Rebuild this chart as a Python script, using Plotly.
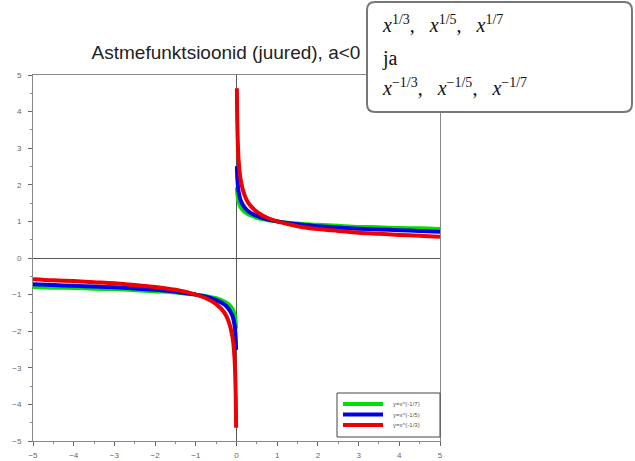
import plotly.graph_objects as go

# sample positions (x > 0); negative branch is the mirror image
x_pos = [0.01, 0.02, 0.05, 0.1, 0.2, 0.3, 0.5, 0.75, 1, 1.5, 2, 2.5, 3, 3.5, 4, 4.5, 5]
y_m17 = [1.93, 1.75, 1.53, 1.39, 1.26, 1.19, 1.10, 1.04, 1.00, 0.94, 0.91, 0.88, 0.85, 0.84, 0.82, 0.81, 0.79]
y_m15 = [2.51, 2.19, 1.82, 1.58, 1.38, 1.27, 1.15, 1.06, 1.00, 0.92, 0.87, 0.83, 0.80, 0.78, 0.76, 0.74, 0.72]
y_m13 = [4.64, 3.68, 2.71, 2.15, 1.71, 1.49, 1.26, 1.10, 1.00, 0.87, 0.79, 0.74, 0.69, 0.66, 0.63, 0.61, 0.58]

series_names = ["y=x^(-1/7)", "y=x^(-1/5)", "y=x^(-1/3)"]
series_vals = [y_m17, y_m15, y_m13]
series_colors = ["#00e000", "#0000ee", "#ee0000"]

tick_vals = [-5, -4, -3, -2, -1, 0, 1, 2, 3, 4, 5]
title_text = "Astmefunktsioonid (juured), a<0"
gap = "\u00a0" * 3

def pw_(e):
    return f"<i>x</i><sup>{e}</sup>"

box_lines = [
    f"{pw_('1/3')},{gap}{pw_('1/5')},{gap}{pw_('1/7')}",
    "ja",
    f"{pw_('\u22121/3')},{gap}{pw_('\u22121/5')},{gap}{pw_('\u22121/7')}",
]

L, R, T, B = 33, 440, 75, 441
W, H = 635, 461
pw, ph = R - L, B - T

def px(xp):
    return (xp - L) / pw

def py(yp):
    return (B - yp) / ph

fig = go.Figure()
for name, vals, col in zip(series_names, series_vals, series_colors):
    xn = [-v for v in reversed(x_pos)]
    yn = [-v for v in reversed(vals)]
    xs = xn + [None] + x_pos
    ys = yn + [None] + vals
    fig.add_trace(go.Scatter(x=xs, y=ys, mode="lines", name=name,
                             line=dict(color=col, width=4, shape="spline"),
                             connectgaps=False, showlegend=False))

axis_common = dict(
    range=[-5, 5], tickvals=tick_vals, ticks="outside", ticklen=4, tickcolor="#666",
    showgrid=False, zeroline=True, zerolinecolor="#555", zerolinewidth=1,
    showline=True, linecolor="#888", linewidth=1, mirror=True, automargin=False,
    tickfont=dict(size=8, color="#666", family="Arial"),
    minor=dict(ticks="outside", ticklen=2, tickcolor="#888", dtick=0.5),
)
fig.update_xaxes(**axis_common, ticklabelstandoff=2)
fig.update_yaxes(**axis_common, ticklabelstandoff=5)

fig.update_layout(
    width=W, height=H,
    margin=dict(l=L, r=W - R, t=T, b=H - B),
    paper_bgcolor="white", plot_bgcolor="white",
    showlegend=False,
    title=dict(text=title_text, xref="container", x=226 / W, xanchor="center",
               y=(H - 52) / H, yanchor="middle",
               font=dict(size=19, color="#222", family="Arial")),
)

# hand-built legend (compact, like the reference)
fig.add_shape(type="rect", xref="paper", yref="paper",
              x0=px(337), x1=px(440), y0=py(437), y1=py(393),
              line=dict(color="#444", width=1), fillcolor="white", layer="above")
for i, (name, col) in enumerate(zip(series_names, series_colors)):
    yy = 404 + i * 10.5
    fig.add_shape(type="line", xref="paper", yref="paper",
                  x0=px(343), x1=px(383), y0=py(yy), y1=py(yy),
                  line=dict(color=col, width=4), layer="above")
    fig.add_annotation(text=name, xref="paper", yref="paper", x=px(391), y=py(yy),
                       xanchor="left", yanchor="middle", showarrow=False,
                       font=dict(size=6, color="#555", family="Arial"))

# rounded callout box
x0, x1, y0, y1, r = 367, 632, 2, 112, 8
def P(a, b):
    return f"{px(a):.5f},{py(b):.5f}"
path = (f"M {P(x0 + r, y0)} L {P(x1 - r, y0)} Q {P(x1, y0)} {P(x1, y0 + r)} "
        f"L {P(x1, y1 - r)} Q {P(x1, y1)} {P(x1 - r, y1)} L {P(x0 + r, y1)} "
        f"Q {P(x0, y1)} {P(x0, y1 - r)} L {P(x0, y0 + r)} Q {P(x0, y0)} {P(x0 + r, y0)} Z")
fig.add_shape(type="path", path=path, xref="paper", yref="paper",
              line=dict(color="#777", width=2), fillcolor="white", layer="above")

for txt, yy in zip(box_lines, [24, 59, 87]):
    fig.add_annotation(text=txt, xref="paper", yref="paper", x=px(380), y=py(yy),
                       xanchor="left", yanchor="middle", showarrow=False,
                       font=dict(size=20, color="#111", family="Liberation Serif"))

fig.write_html("out.html")
